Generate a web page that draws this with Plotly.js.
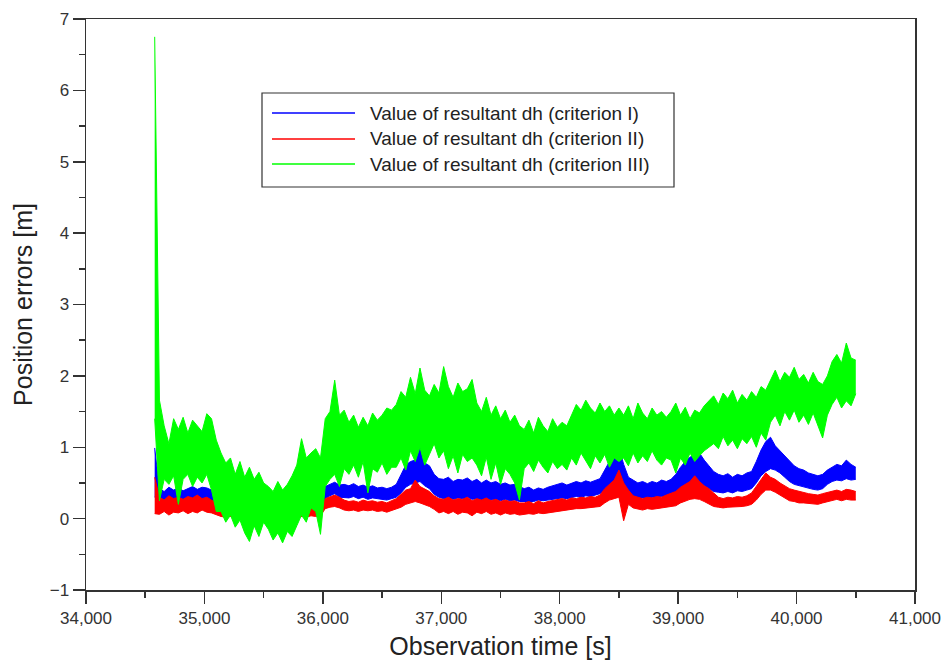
<!DOCTYPE html>
<html><head><meta charset="utf-8">
<script src="https://cdn.plot.ly/plotly-3.0.1.min.js"></script>
<style>html,body{margin:0;padding:0;background:#fff}#chart{width:950px;height:666px}</style>
</head><body><div id="chart"></div>
<script>
// ---- data ----
// Each noisy series is described by the upper and lower edge of its band,
// read every 40 s from the picture.
const seriesNames = [
  "Value of resultant dh (criterion I)",
  "Value of resultant dh (criterion II)",
  "Value of resultant dh (criterion III)"
];
const seriesColors = ["#0000ff", "#ff0000", "#00ff00"];
const tStart = 34580;   // first observation [s]
const tStep = 40;       // reading interval [s]

const critIHigh = [
  0.99, 0.42, 0.38, 0.44, 0.40, 0.43, 0.39, 0.42, 0.45, 0.41,
  0.44, 0.43, 0.40, 0.30, 0.24, 0.22, 0.20, 0.18, 0.16, 0.14,
  0.17, 0.15, 0.16, 0.14, 0.15, 0.17, 0.14, 0.16, 0.15, 0.17,
  0.16, 0.14, 0.17, 0.15, 0.16, 0.18, 0.45, 0.48, 0.51, 0.47,
  0.48, 0.46, 0.49, 0.45, 0.47, 0.44, 0.46, 0.43, 0.44, 0.42,
  0.44, 0.48, 0.62, 0.75, 0.80, 0.82, 1.00, 0.78, 0.74, 0.62,
  0.56, 0.55, 0.58, 0.52, 0.55, 0.54, 0.57, 0.52, 0.55, 0.50,
  0.54, 0.50, 0.52, 0.48, 0.50, 0.47, 0.48, 0.45, 0.42, 0.44,
  0.40, 0.43, 0.41, 0.44, 0.46, 0.48, 0.50, 0.47, 0.50, 0.52,
  0.50, 0.53, 0.51, 0.54, 0.56, 0.68, 0.80, 0.88, 1.00, 0.76,
  0.58, 0.54, 0.50, 0.52, 0.49, 0.52, 0.50, 0.54, 0.52, 0.55,
  0.62, 0.72, 0.80, 0.86, 0.90, 0.92, 0.82, 0.74, 0.66, 0.62,
  0.60, 0.63, 0.58, 0.62, 0.60, 0.64, 0.66, 0.80, 0.96, 1.08,
  1.14, 1.02, 0.95, 0.88, 0.82, 0.74, 0.70, 0.68, 0.64, 0.62,
  0.60, 0.62, 0.68, 0.72, 0.76, 0.74, 0.82, 0.76, 0.72
];
const critILow = [
  0.30, 0.25, 0.27, 0.25, 0.28, 0.26, 0.27, 0.25, 0.28, 0.26,
  0.27, 0.28, 0.25, 0.14, 0.12, 0.10, 0.09, 0.08, 0.07, 0.06,
  0.08, 0.07, 0.06, 0.08, 0.07, 0.06, 0.08, 0.07, 0.06, 0.08,
  0.07, 0.06, 0.08, 0.07, 0.06, 0.08, 0.28, 0.32, 0.35, 0.30,
  0.30, 0.29, 0.31, 0.28, 0.30, 0.27, 0.29, 0.28, 0.27, 0.26,
  0.28, 0.30, 0.36, 0.44, 0.48, 0.50, 0.52, 0.46, 0.42, 0.34,
  0.30, 0.28, 0.30, 0.27, 0.29, 0.28, 0.30, 0.27, 0.28, 0.26,
  0.28, 0.26, 0.27, 0.25, 0.27, 0.25, 0.26, 0.24, 0.24, 0.25,
  0.24, 0.26, 0.25, 0.26, 0.27, 0.28, 0.29, 0.28, 0.30, 0.31,
  0.30, 0.32, 0.31, 0.33, 0.35, 0.40, 0.45, 0.48, 0.50, 0.42,
  0.34, 0.30, 0.28, 0.29, 0.28, 0.30, 0.29, 0.31, 0.30, 0.32,
  0.36, 0.42, 0.46, 0.50, 0.52, 0.50, 0.46, 0.42, 0.38, 0.37,
  0.36, 0.38, 0.36, 0.39, 0.38, 0.40, 0.42, 0.50, 0.60, 0.66,
  0.70, 0.68, 0.64, 0.58, 0.52, 0.48, 0.46, 0.44, 0.42, 0.41,
  0.40, 0.42, 0.48, 0.52, 0.54, 0.53, 0.56, 0.54, 0.55
];

const critIIHigh = [
  0.58, 0.30, 0.26, 0.32, 0.28, 0.30, 0.27, 0.31, 0.29, 0.33,
  0.28, 0.30, 0.26, 0.22, 0.18, 0.16, 0.17, 0.15, 0.16, 0.14,
  0.15, 0.13, 0.16, 0.14, 0.12, 0.15, 0.14, 0.13, 0.16, 0.14,
  0.15, 0.13, 0.16, 0.14, 0.15, 0.14, 0.28, 0.31, 0.33, 0.30,
  0.26, 0.24, 0.25, 0.23, 0.26, 0.24, 0.25, 0.23, 0.24, 0.22,
  0.25, 0.28, 0.34, 0.40, 0.42, 0.54, 0.45, 0.42, 0.38, 0.32,
  0.28, 0.27, 0.30, 0.26, 0.28, 0.27, 0.30, 0.25, 0.28, 0.26,
  0.29, 0.25, 0.27, 0.24, 0.26, 0.24, 0.25, 0.22, 0.22, 0.24,
  0.21, 0.25, 0.22, 0.24, 0.25, 0.27, 0.28, 0.26, 0.29, 0.28,
  0.30, 0.29, 0.31, 0.30, 0.33, 0.42, 0.48, 0.54, 0.68, 0.50,
  0.40, 0.32, 0.30, 0.28, 0.30, 0.29, 0.31, 0.30, 0.33, 0.35,
  0.38, 0.44, 0.48, 0.52, 0.60, 0.52, 0.46, 0.42, 0.36, 0.30,
  0.28, 0.30, 0.29, 0.31, 0.30, 0.32, 0.36, 0.45, 0.55, 0.64,
  0.58, 0.55, 0.50, 0.46, 0.42, 0.40, 0.38, 0.36, 0.35, 0.34,
  0.33, 0.35, 0.37, 0.39, 0.40, 0.38, 0.41, 0.40, 0.38
];
const critIILow = [
  0.07, 0.06, 0.10, 0.05, 0.09, 0.08, 0.11, 0.07, 0.10, 0.08,
  0.12, 0.09, 0.08, 0.05, 0.03, 0.02, 0.03, 0.02, 0.03, 0.03,
  0.02, 0.04, 0.03, 0.02, 0.04, 0.03, 0.02, 0.04, 0.03, 0.02,
  0.04, 0.03, 0.02, 0.04, 0.03, 0.04, 0.14, 0.16, 0.17, 0.15,
  0.12, 0.11, 0.12, 0.10, 0.12, 0.11, 0.12, 0.10, 0.11, 0.09,
  0.11, 0.13, 0.16, 0.20, 0.22, 0.24, 0.22, 0.20, 0.17, 0.13,
  0.08, 0.10, 0.07, 0.10, 0.06, 0.09, 0.08, 0.04, 0.09, 0.07,
  0.10, 0.06, 0.08, 0.05, 0.08, 0.06, 0.07, 0.05, 0.06, 0.07,
  0.06, 0.08, 0.07, 0.08, 0.09, 0.11, 0.12, 0.12, 0.13, 0.14,
  0.14, 0.15, 0.15, 0.16, 0.17, 0.22, 0.26, 0.28, 0.30, -0.03,
  0.20, 0.15, 0.13, 0.12, 0.14, 0.13, 0.14, 0.15, 0.15, 0.17,
  0.18, 0.22, 0.25, 0.27, 0.28, 0.27, 0.24, 0.20, 0.17, 0.16,
  0.15, 0.16, 0.16, 0.17, 0.17, 0.18, 0.20, 0.26, 0.34, 0.40,
  0.40, 0.37, 0.33, 0.28, 0.25, 0.24, 0.22, 0.22, 0.21, 0.21,
  0.20, 0.22, 0.24, 0.26, 0.27, 0.25, 0.27, 0.26, 0.26
];

const critIIIHigh = [
  6.75, 1.66, 1.30, 1.05, 1.40, 1.25, 1.42, 1.20, 1.38, 1.30,
  1.22, 1.47, 1.40, 1.10, 0.92, 0.78, 0.85, 0.62, 0.80, 0.58,
  0.72, 0.55, 0.65, 0.50, 0.45, 0.38, 0.52, 0.40, 0.48, 0.60,
  0.75, 1.12, 0.85, 0.92, 0.98, 0.85, 1.40, 1.50, 1.94, 1.45,
  1.52, 1.35, 1.45, 1.28, 1.42, 1.30, 1.48, 1.38, 1.45, 1.55,
  1.52, 1.60, 1.78, 1.70, 1.98, 1.75, 2.11, 1.80, 1.72, 1.88,
  1.76, 2.13, 1.85, 1.70, 1.90, 1.78, 1.82, 1.95, 1.62, 1.50,
  1.70, 1.45, 1.58, 1.40, 1.52, 1.35, 1.45, 1.30, 1.25, 1.38,
  1.20, 1.42, 1.30, 1.22, 1.40, 1.28, 1.35, 1.30, 1.45, 1.60,
  1.52, 1.66, 1.55, 1.48, 1.62, 1.50, 1.58, 1.45, 1.55, 1.45,
  1.58, 1.40, 1.62, 1.48, 1.40, 1.55, 1.45, 1.50, 1.42, 1.50,
  1.62, 1.45, 1.56, 1.40, 1.52, 1.48, 1.58, 1.65, 1.72, 1.60,
  1.76, 1.68, 1.80, 1.62, 1.74, 1.66, 1.78, 1.70, 1.85, 1.80,
  1.95, 2.08, 1.92, 2.05, 1.98, 2.12, 1.95, 2.02, 1.90, 2.05,
  1.92, 1.88, 2.00, 2.20, 2.30, 2.18, 2.46, 2.25, 2.22
];
const critIIILow = [
  1.40, 0.25, 0.55, 0.48, 0.60, 0.20, 0.55, 0.62, 0.45, 0.58,
  0.50, 0.62, 0.40, 0.10, 0.10, -0.05, 0.05, -0.12, -0.02, -0.20,
  -0.32, -0.10, -0.25, -0.05, -0.15, -0.30, -0.20, -0.34, -0.18, -0.25,
  -0.10, 0.05, -0.05, 0.15, 0.10, -0.22, 0.45, 0.55, 0.62, 0.45,
  0.70, 0.62, 0.75, 0.58, 0.80, 0.36, 0.70, 0.65, 0.78, 0.62,
  0.72, 0.72, 0.85, 0.68, 0.95, 0.80, 1.00, 0.75, 0.90, 1.05,
  0.85, 0.95, 0.70, 0.88, 0.64, 0.90, 0.80, 0.85, 0.75, 0.60,
  0.86, 0.55, 0.78, 0.48, 0.70, 0.62, 0.50, 0.26, 0.70, 0.78,
  0.66, 0.82, 0.72, 0.64, 0.80, 0.70, 0.76, 0.68, 0.85, 0.75,
  0.92, 0.80, 0.70, 0.88, 0.78, 0.90, 0.72, 0.85, 0.80, 0.85,
  0.74, 0.92, 0.78, 0.88, 0.80, 0.95, 0.82, 0.75, 0.85, 0.82,
  0.64, 0.85, 0.75, 0.92, 0.80, 0.88, 0.95, 1.00, 1.05, 0.98,
  1.15, 1.02, 1.10, 0.98, 1.12, 1.05, 1.15, 1.00, 1.20, 1.10,
  1.35, 1.45, 1.30, 1.50, 1.38, 1.52, 1.35, 1.45, 1.32, 1.48,
  1.30, 1.13, 1.45, 1.60, 1.70, 1.55, 1.65, 1.58, 1.75
];

const xTickVals = [34000, 35000, 36000, 37000, 38000, 39000, 40000, 41000];
const yTickVals = [-1, 0, 1, 2, 3, 4, 5, 6, 7];

// ---- build ----
const bands = [
  [critILow, critIHigh],
  [critIILow, critIIHigh],
  [critIIILow, critIIIHigh]
];
const times = critIHigh.map((_, i) => tStart + i * tStep);

const traces = [];
bands.forEach(([lo, hi], k) => {
  traces.push({
    type: "scatter", mode: "lines", x: times, y: lo, name: seriesNames[k],
    line: { color: seriesColors[k], width: 1 }, showlegend: false, hoverinfo: "skip"
  });
  traces.push({
    type: "scatter", mode: "lines", x: times, y: hi, name: seriesNames[k],
    line: { color: seriesColors[k], width: 1 }, fill: "tonexty", fillcolor: seriesColors[k],
    showlegend: false, hoverinfo: "skip"
  });
});

// layout geometry (pixels)
const W = 950, H = 666;
const M = { l: 86, r: 35, t: 19, b: 76 };
const pw = W - M.l - M.r, ph = H - M.t - M.b;
const px = x => (x - M.l) / pw;
const py = y => (H - M.b - y) / ph;

const axisColor = "#333333";
const font = "Liberation Sans, Arial, sans-serif";

const legBox = { x0: 262, x1: 674, y0: 93, y1: 187 };
const legRows = [113, 139, 164];
const shapes = [{
  type: "rect", xref: "paper", yref: "paper",
  x0: px(legBox.x0), x1: px(legBox.x1), y0: py(legBox.y1), y1: py(legBox.y0),
  line: { color: axisColor, width: 1.2 }, fillcolor: "rgba(255,255,255,0)"
}];
const annotations = [];
legRows.forEach((yy, k) => {
  shapes.push({
    type: "line", xref: "paper", yref: "paper",
    x0: px(272), x1: px(355), y0: py(yy), y1: py(yy),
    line: { color: seriesColors[k], width: 1.4 }
  });
  annotations.push({
    xref: "paper", yref: "paper", x: px(368), y: py(yy),
    xanchor: "left", yanchor: "middle", showarrow: false,
    text: seriesNames[k], font: { family: font, size: 19, color: "#222" }
  });
});

const layout = {
  width: W, height: H, margin: M,
  paper_bgcolor: "#fff", plot_bgcolor: "#fff",
  font: { family: font, color: "#222" },
  showlegend: false,
  xaxis: {
    range: [34000, 41000], tickvals: xTickVals, tickformat: ",d",
    ticks: "outside", ticklen: 12, tickwidth: 1.5, tickcolor: axisColor,
    minor: { ticks: "outside", ticklen: 6, tickwidth: 1.5, tickcolor: axisColor, dtick: 500, tick0: 34000, showgrid: false },
    showline: true, linecolor: axisColor, linewidth: 1.5, mirror: true,
    showgrid: false, zeroline: false, automargin: false,
    tickfont: { family: font, size: 17, color: "#333" },
    title: { text: "Observation time [s]", font: { family: font, size: 25, color: "#222" }, standoff: 10 }
  },
  yaxis: {
    range: [-1, 7], tickvals: yTickVals,
    ticks: "outside", ticklen: 12, tickwidth: 1.5, tickcolor: axisColor,
    minor: { ticks: "outside", ticklen: 6, tickwidth: 1.5, tickcolor: axisColor, dtick: 0.5, tick0: 0, showgrid: false },
    showline: true, linecolor: axisColor, linewidth: 1.5, mirror: true,
    showgrid: false, zeroline: false, automargin: false,
    tickfont: { family: font, size: 17, color: "#333" },
    title: { text: "Position errors [m]", font: { family: font, size: 25, color: "#222" }, standoff: 10 }
  },
  shapes: shapes,
  annotations: annotations
};

Plotly.newPlot("chart", traces, layout, { displayModeBar: false, staticPlot: true });
</script>
</body></html>
